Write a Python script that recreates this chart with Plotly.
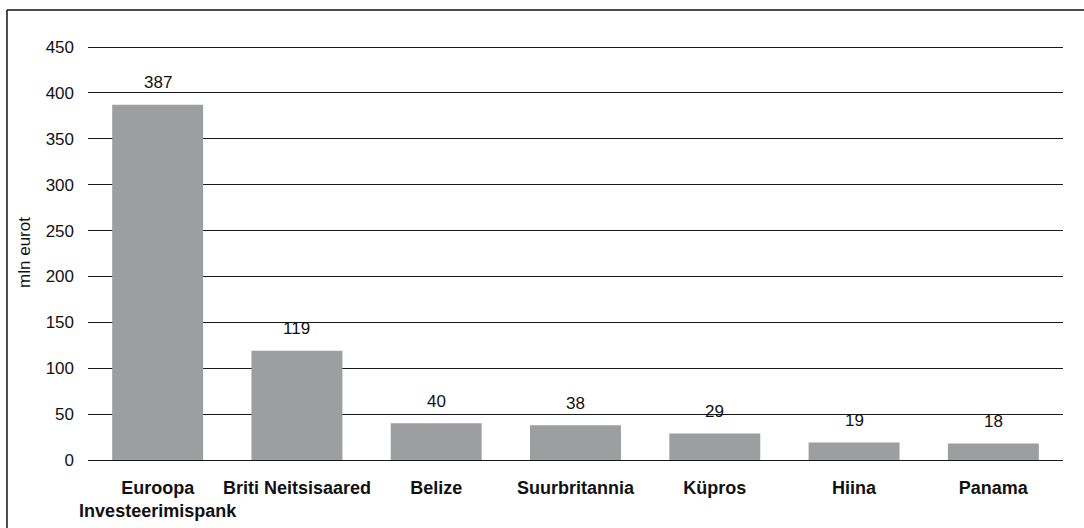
import plotly.graph_objects as go

categories = ["Euroopa<br>Investeerimispank", "Briti Neitsisaared", "Belize",
              "Suurbritannia", "Küpros", "Hiina", "Panama"]
values = [387, 119, 40, 38, 29, 19, 18]
y_ticks = [0, 50, 100, 150, 200, 250, 300, 350, 400, 450]
y_title = "mln eurot"

FONT = "Liberation Sans, Arial, Helvetica, sans-serif"

fig = go.Figure()
fig.add_trace(go.Bar(
    x=categories, y=values,
    marker=dict(color="#9d9ea0", line=dict(width=0)),
    hoverinfo="x+y",
))

for c, v in zip(categories, values):
    fig.add_annotation(x=c, y=v, text=str(v), showarrow=False,
                       xref="x", yref="y", yanchor="middle", yshift=22,
                       font=dict(family=FONT, size=17, color="#111111"))

# chart-area frame (top and left edges visible)
fig.add_shape(type="line", xref="paper", yref="paper",
              x0=-0.0831, x1=1.2, y0=1.0843, y1=1.0843,
              line=dict(color="#111111", width=1.5))
fig.add_shape(type="line", xref="paper", yref="paper",
              x0=-0.0831, x1=-0.0831, y0=-0.3, y1=1.0843,
              line=dict(color="#111111", width=1.5))

fig.update_layout(
    width=1084, height=528,
    margin=dict(l=88, r=21, t=45, b=68, autoexpand=False),
    paper_bgcolor="white", plot_bgcolor="white",
    bargap=0.347,
    showlegend=False,
    font=dict(family=FONT, size=17, color="#111111"),
)
fig.update_xaxes(
    showgrid=False, showline=False, zeroline=False, ticks="",
    tickangle=0, automargin=False,
    tickfont=dict(family=FONT, size=18, color="#111111", weight="bold"),
    ticklabelstandoff=15,
)
fig.update_yaxes(
    range=[0, 452.2], tickvals=y_ticks, ticktext=[str(t) for t in y_ticks],
    showgrid=True, gridcolor="#1a1a1a", gridwidth=1.4,
    zeroline=True, zerolinecolor="#1a1a1a", zerolinewidth=1.4,
    showline=False, ticks="", automargin=False,
    tickfont=dict(family=FONT, size=17, color="#111111"),
    ticklabelstandoff=13,
    title=dict(text=y_title, font=dict(family=FONT, size=17, color="#111111"), standoff=10),
)

fig.write_html("out.html", config={"displayModeBar": False},
               post_script="document.body.style.margin='0';")
